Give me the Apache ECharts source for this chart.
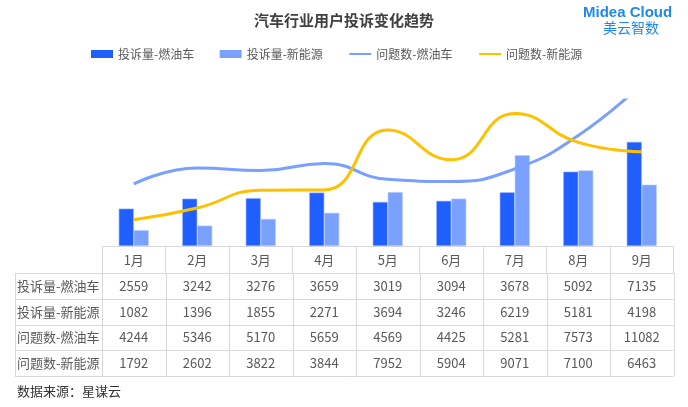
<!DOCTYPE html>
<html><head><meta charset="utf-8">
<script src="https://cdn.jsdelivr.net/npm/echarts@6/dist/echarts.min.js"></script>
<style>html,body{margin:0;padding:0;background:#fff}#c{width:688px;height:407px}</style>
</head><body><div id="c"></div>
<script>
const months = ['1月','2月','3月','4月','5月','6月','7月','8月','9月'];
const seriesNames = ['投诉量-燃油车','投诉量-新能源','问题数-燃油车','问题数-新能源'];
const complaintsICE = [2559,3242,3276,3659,3019,3094,3678,5092,7135];
const complaintsNEV = [1082,1396,1855,2271,3694,3246,6219,5181,4198];
const issuesICE = [4244,5346,5170,5659,4569,4425,5281,7573,11082];
const issuesNEV = [1792,2602,3822,3844,7952,5904,9071,7100,6463];
const tableRows = [complaintsICE, complaintsNEV, issuesICE, issuesNEV];

const FONT = '"Noto Sans CJK SC","Noto Sans",sans-serif';
const gridL = 102, gridR = 14.5, gridT = 100, gridB = 161;
const W = 688, H = 407;
const plotRight = W - gridR;
const colW = (plotRight - gridL) / months.length;
const axisY = H - gridB;
const headerBottom = axisY + 27;
const rowH = 25.75;
const labelLeft = 15;
const lineColor = '#d9d9d9';

const graphic = [];
graphic.push({type:'text', left:'center', top:13, style:{text:'汽车行业用户投诉变化趋势', font:'bold 15px '+FONT, fill:'#404040'}});
graphic.push({type:'text', x:583, y:5, style:{text:'Midea Cloud', font:'bold 15px "Liberation Sans",Arial,sans-serif', fill:'#1e8ae8'}});
graphic.push({type:'text', x:603, y:21, style:{text:'美云智数', font:'14px '+FONT, fill:'#1e8ae8'}});
graphic.push({type:'text', x:17, y:385, style:{text:'数据来源：星谋云', font:'13px '+FONT, fill:'#333'}});
for (let r = 0; r <= tableRows.length; r++) {
  const y = Math.round(headerBottom + r * rowH) + 0.5;
  graphic.push({type:'line', shape:{x1:labelLeft, y1:y, x2:plotRight, y2:y}, style:{stroke:lineColor, lineWidth:1}});
}
const tableBottom = headerBottom + tableRows.length * rowH;
graphic.push({type:'line', shape:{x1:labelLeft+0.5, y1:headerBottom, x2:labelLeft+0.5, y2:tableBottom}, style:{stroke:lineColor, lineWidth:1}});
for (let c = 0; c <= months.length; c++) {
  const x = Math.round(gridL + c * colW) + 0.5;
  graphic.push({type:'line', shape:{x1:x, y1:headerBottom, x2:x, y2:tableBottom}, style:{stroke:lineColor, lineWidth:1}});
}
tableRows.forEach((row, r) => {
  const cy = headerBottom + (r + 0.5) * rowH;
  graphic.push({type:'text', x:labelLeft+2, y:cy, style:{text:seriesNames[r], font:'13px '+FONT, fill:'#595959', verticalAlign:'middle'}});
  row.forEach((v, c) => {
    graphic.push({type:'text', x:gridL + (c + 0.5) * colW, y:cy, style:{text:String(v), font:'13px '+FONT, fill:'#595959', align:'center', verticalAlign:'middle'}});
  });
});

const hidden = {color:'rgba(0,0,0,0)', borderWidth:0, opacity:0};
const chart = echarts.init(document.getElementById('c'), null, {renderer:'canvas'});
chart.setOption({
  animation:false,
  backgroundColor:'#fff',
  textStyle:{fontFamily:FONT},
  legend:{
    top:43, left:86, itemGap:25.5, itemWidth:22, itemHeight:8,
    textStyle:{fontSize:12, color:'#595959', fontFamily:FONT},
    data:[
      {name:seriesNames[0], icon:'rect', itemStyle:{borderWidth:0}},
      {name:seriesNames[1], icon:'rect', itemStyle:{borderWidth:0}},
      {name:seriesNames[2], itemStyle:hidden},
      {name:seriesNames[3], itemStyle:hidden}
    ]
  },
  grid:{left:gridL, right:gridR, top:gridT, bottom:gridB, containLabel:false},
  xAxis:{
    type:'category', data:months,
    axisLine:{lineStyle:{color:lineColor}},
    axisTick:{show:true, length:27, lineStyle:{color:lineColor}},
    axisLabel:{color:'#595959', fontSize:13, margin:8, fontFamily:FONT}
  },
  yAxis:{type:'value', min:0, max:10000, show:false, splitLine:{show:false}},
  series:[
    {name:seriesNames[0], type:'bar', data:complaintsICE, barWidth:15, barGap:'0%',
     itemStyle:{color:'#1f5fff', borderColor:'#8fb0ff', borderWidth:0.6}},
    {name:seriesNames[1], type:'bar', data:complaintsNEV, barWidth:15, barGap:'0%',
     itemStyle:{color:'#7ba1ff', borderColor:'#b5caff', borderWidth:0.6}},
    {name:seriesNames[2], type:'line', data:issuesICE, smooth:0.5, showSymbol:false, symbol:'none', clip:true,
     lineStyle:{color:'#79a0ff', width:3}, itemStyle:{color:'#79a0ff'}},
    {name:seriesNames[3], type:'line', data:issuesNEV, smooth:0.5, showSymbol:false, symbol:'none', clip:true,
     lineStyle:{color:'#ffc000', width:3}, itemStyle:{color:'#ffc000'}}
  ],
  graphic:graphic
});
</script>
</body></html>
